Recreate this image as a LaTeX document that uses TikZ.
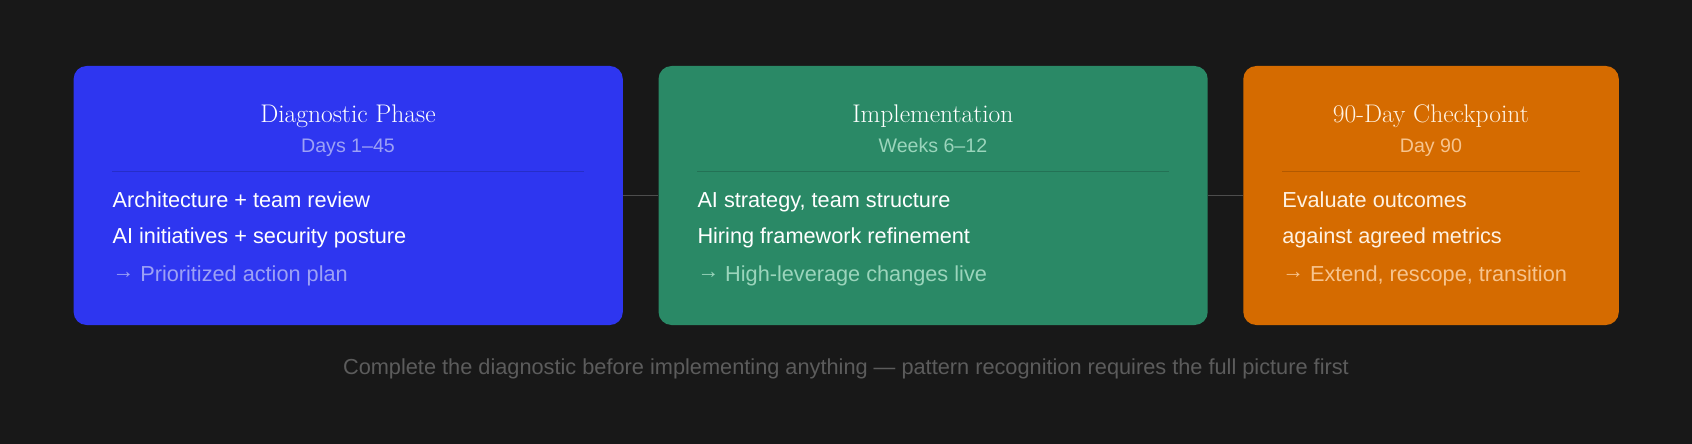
\documentclass[tikz,border=0pt]{standalone}
\usepackage{fontspec}
\setsansfont{Liberation Sans}
\definecolor{bgc}{HTML}{181818}
\definecolor{cblue}{HTML}{2E36F0}
\definecolor{cgreen}{HTML}{2A8966}
\definecolor{corange}{HTML}{D56B00}
\definecolor{sblue}{HTML}{9CA1F6}
\definecolor{sgreen}{HTML}{9BD5BC}
\definecolor{sorange}{HTML}{F7C48E}
\definecolor{torange}{HTML}{FFF2E2}
\definecolor{capc}{HTML}{5C5C5C}
\definecolor{linkc}{HTML}{4D4D4D}
\newcommand{\myarrow}{\raisebox{3.2pt}{→}}
\tikzset{
  phasebox/.style={rounded corners=13pt, inner sep=0pt, anchor=north west, minimum height=259pt},
  ttl/.style={anchor=base, inner sep=0pt, font=\fontsize{25.5}{30}\selectfont},
  sub/.style={anchor=base, inner sep=0pt, font=\sffamily\fontsize{19.6}{23}\selectfont},
  item/.style={anchor=base west, inner sep=0pt, font=\sffamily\fontsize{21.7}{26}\selectfont},
  divider/.style={black, opacity=0.16, line width=1pt},
  link/.style={linkc, line width=1.5pt},
  caption/.style={anchor=base, inner sep=0pt, text=capc, font=\sffamily\fontsize{21.75}{26}\selectfont}
}
\begin{document}
\begin{tikzpicture}[x=1pt,y=-1pt]
\fill[bgc] (0,0) rectangle (1692,444);
\useasboundingbox (0,0) rectangle (1692,444);

% boxes
\node[phasebox, fill=cblue, minimum width=549.2pt] (b1) at (73.4,65.8) {};
\node[phasebox, fill=cgreen, minimum width=549.2pt] (b2) at (658.3,65.8) {};
\node[phasebox, fill=corange, minimum width=375.5pt] (b3) at (1243.1,65.8) {};

% connectors
\draw[link] (b1.east) -- (b2.west);
\draw[link] (b2.east) -- (b3.west);

% box 1
\node[ttl, text=white] (t1) at (348,122) {Diagnostic Phase};
\node[sub, text=sblue] (s1) at (348,152.3) {Days 1–45};
\coordinate (d1a) at (112.4,171);
\coordinate (d1b) at (583.6,171);
\draw[divider] (d1a) -- (d1b);
\node[item, text=white] (i1a) at (112.4,207.7) {Architecture + team review};
\node[item, text=white] (i1b) at (112.4,243.3) {AI initiatives + security posture};
\node[item, text=sblue] (i1c) at (112.4,281.7) {\myarrow{} Prioritized action plan};

% box 2
\node[ttl, text=white] (t2) at (932.9,122) {Implementation};
\node[sub, text=sgreen] (s2) at (932.9,152.3) {Weeks 6–12};
\coordinate (d2a) at (697.3,171);
\coordinate (d2b) at (1168.5,171);
\draw[divider] (d2a) -- (d2b);
\node[item, text=white] (i2a) at (697.3,207.7) {AI strategy, team structure};
\node[item, text=white] (i2b) at (697.3,243.3) {Hiring framework refinement};
\node[item, text=sgreen] (i2c) at (697.3,281.7) {\myarrow{} High-leverage changes live};

% box 3
\node[ttl, text=torange] (t3) at (1430.9,122) {90-Day Checkpoint};
\node[sub, text=sorange] (s3) at (1430.9,152.3) {Day 90};
\coordinate (d3a) at (1282.1,171);
\coordinate (d3b) at (1579.6,171);
\draw[divider] (d3a) -- (d3b);
\node[item, text=torange] (i3a) at (1282.1,207.7) {Evaluate outcomes};
\node[item, text=torange] (i3b) at (1282.1,243.3) {against agreed metrics};
\node[item, text=sorange] (i3c) at (1282.1,281.7) {\myarrow{} Extend, rescope, transition};

% caption
\node[caption] (cap) at (846,374) {Complete the diagnostic before implementing anything — pattern recognition requires the full picture first};
\end{tikzpicture}
\end{document}
